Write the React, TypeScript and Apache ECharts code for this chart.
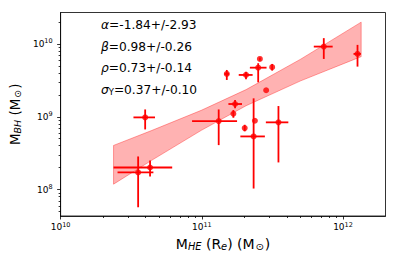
import React, { useEffect, useRef } from "react";
import * as echarts from "echarts";

// ---- data ----
const xCenter = [3.97e10, 1.317e11, 3.54e10, 4.3e10, 1.503e11, 2.056e11, 2.578e11, 2.508e11, 3.15e11, 2.856e11, 1.72e11, 1.673e11, 2.377e11, 2.328e11, 2.013e11, 3.49e11, 7.31e11, 1.267e12];
const xLow = [3.28e10, 8.53e10, 2.53e10, 2.37e10, 1.445e11, 1.826e11, 2.578e11, 2.19e11, 3.15e11, 2.856e11, 1.543e11, 1.673e11, 2.377e11, 1.875e11, 2.013e11, 2.842e11, 6.21e11, 1.187e12];
const xHigh = [4.66e10, 1.777e11, 4.54e10, 6.17e10, 1.561e11, 2.29e11, 2.578e11, 2.874e11, 3.15e11, 2.856e11, 1.927e11, 1.673e11, 2.377e11, 2.797e11, 2.013e11, 4.1e11, 8.45e11, 1.339e12];
const yCenter = [9.8e8, 8.73e8, 1.72e8, 2.01e8, 3.87e9, 3.75e9, 6.22e9, 4.72e9, 4.79e9, 2.31e9, 1.496e9, 1.1e9, 8.81e8, 5.37e8, 6.99e8, 8.38e8, 9.19e9, 7.29e9];
const yLow = [6.7e8, 4.08e8, 5.72e7, 1.51e8, 3.2e9, 3.27e9, 5.9e9, 2.97e9, 4.3e9, 2.31e9, 1.305e9, 9.69e8, 8.81e8, 1.034e8, 6.3e8, 2.36e8, 6.22e9, 4.88e9];
const yHigh = [1.26e9, 1.26e9, 2.85e8, 2.51e8, 4.39e9, 4.16e9, 6.5e9, 5.43e9, 5.31e9, 2.31e9, 1.697e9, 1.236e9, 8.81e8, 1.79e9, 7.76e8, 1.403e9, 1.2e10, 9.7e9];

// confidence band of the fit
const bandX = [2.37e10, 4.41e10, 9.92e10, 2.06e11, 5.01e11, 1.345e12];
const bandLow = [1.186e8, 2.52e8, 6.51e8, 1.417e9, 3.11e9, 6.69e9];
const bandHigh = [4.04e8, 6.47e8, 1.226e9, 2.36e9, 6.17e9, 1.99e10];

const xMajorExp = [10, 11, 12];
const yMajorExp = [8, 9, 10];
const fitTexts = [
  "{g|α}=-1.84+/-2.93",
  "{g|β}=0.98+/-0.26",
  "{g|ρ}=0.73+/-0.14",
  "{g|σ}{s|Y}=0.37+/-0.10",
];

const X_MIN = 1e10;
const X_MAX = 2e12;
const Y_MIN = 4.34e7;
const Y_MAX = 2.7e10;

const L = Math.log10;
const FONT = "DejaVu Sans";

function minorTicks(lo: number, hi: number): number[] {
  const out: number[] = [];
  for (let n = Math.floor(lo); n <= Math.ceil(hi); n++) {
    for (let k = 2; k <= 9; k++) {
      const v = n + L(k);
      if (v > lo + 1e-6 && v < hi - 1e-6) out.push(v);
    }
  }
  return out;
}

export default function App() {
  const ref = useRef<HTMLDivElement>(null);
  useEffect(() => {
    if (!ref.current) return;
    const chart = echarts.init(ref.current, undefined, { renderer: "svg" });
    const xmin = L(X_MIN), xmax = L(X_MAX), ymin = L(Y_MIN), ymax = L(Y_MAX);
    const tickLabel = {
      color: "#000",
      fontFamily: FONT,
      formatter: (v: number) => `{b|10}{s|${Math.round(v)}}`,
      rich: {
        b: { fontSize: 9, fontFamily: FONT, color: "#000", lineHeight: 12 },
        s: { fontSize: 6.5, fontFamily: FONT, color: "#000", lineHeight: 7, verticalAlign: "top" },
      },
    };
    const nameStyle = (size: number) => ({
      fontFamily: FONT,
      fontSize: size,
      color: "#000",
      rich: {
        sub: { fontSize: size * 0.7, fontFamily: FONT, fontStyle: "italic", color: "#000", verticalAlign: "bottom", lineHeight: 10 },
        sun: { fontSize: size * 0.7, fontFamily: FONT, color: "#000", verticalAlign: "bottom", lineHeight: 10, padding: [0, 1, 0, 1] },
      },
    });
    const lineStyle = { color: "#000", width: 0.8 };
    const errData = xCenter.map((x, i) => [L(x), L(yCenter[i]), L(xLow[i]), L(xHigh[i]), L(yLow[i]), L(yHigh[i])]);
    const bandData = bandX.map((x, i) => [L(x), L(bandLow[i]), L(bandHigh[i])]);

    chart.setOption({
      animation: false,
      grid: { left: 58, right: 13.5, top: 12.5, bottom: 50, show: true, borderColor: "#000", borderWidth: 0.8, backgroundColor: "transparent" },
      xAxis: [
        {
          type: "value", min: xmin, max: xmax, position: "bottom",
          axisLine: { show: true, lineStyle },
          axisTick: { show: true, length: 3.5, customValues: xMajorExp, lineStyle },
          axisLabel: { ...tickLabel, customValues: xMajorExp, margin: 5 },
          splitLine: { show: false },
          name: "M{sub|HE} (R{sub|e}) (M{sun|⊙})",
          nameLocation: "middle", nameGap: 21, nameTextStyle: nameStyle(14),
        },
        {
          type: "value", min: xmin, max: xmax, position: "bottom",
          axisLine: { show: false },
          axisTick: { show: true, length: 2, customValues: minorTicks(xmin, xmax), lineStyle },
          axisLabel: { show: false },
          splitLine: { show: false },
        },
      ],
      yAxis: [
        {
          type: "value", min: ymin, max: ymax, position: "left",
          axisLine: { show: true, lineStyle },
          axisTick: { show: true, length: 3.5, customValues: yMajorExp, lineStyle },
          axisLabel: { ...tickLabel, customValues: yMajorExp, margin: 8 },
          splitLine: { show: false },
          name: "M{sub|BH} (M{sun|⊙})",
          nameLocation: "middle", nameGap: 30, nameTextStyle: nameStyle(13.5),
        },
        {
          type: "value", min: ymin, max: ymax, position: "left",
          axisLine: { show: false },
          axisTick: { show: true, length: 2, customValues: minorTicks(ymin, ymax), lineStyle },
          axisLabel: { show: false },
          splitLine: { show: false },
        },
      ],
      graphic: fitTexts.map((t, i) => ({
        type: "text",
        x: 101,
        y: 25 + i * 21.7,
        style: {
          text: t,
          fontFamily: FONT,
          fontSize: 12.2,
          fill: "#000",
          verticalAlign: "middle",
          rich: {
            g: { fontFamily: FONT, fontSize: 12.2, fontStyle: "italic", fill: "#000" },
            s: { fontFamily: FONT, fontSize: 8.5, fill: "#000", verticalAlign: "bottom", lineHeight: 10 },
          },
        },
        z: 10,
      })),
      series: [
        {
          type: "custom",
          name: "band",
          xAxisIndex: 0, yAxisIndex: 0,
          data: [bandData[0]],
          z: 1,
          renderItem: (_p: any, api: any) => {
            const upper = bandData.map((d) => api.coord([d[0], d[2]]));
            const lower = bandData.map((d) => api.coord([d[0], d[1]])).reverse();
            return {
              type: "polygon",
              shape: { points: upper.concat(lower) },
              style: { fill: "rgba(255,0,0,0.3)", stroke: "rgba(255,0,0,0.35)", lineWidth: 1 },
            };
          },
        },
        {
          type: "custom",
          name: "errors",
          xAxisIndex: 0, yAxisIndex: 0,
          data: errData,
          z: 3,
          renderItem: (_p: any, api: any) => {
            const x = api.value(0), y = api.value(1);
            const a = api.coord([api.value(2), y]);
            const b = api.coord([api.value(3), y]);
            const c = api.coord([x, api.value(4)]);
            const d = api.coord([x, api.value(5)]);
            const st = { stroke: "#ff0000", lineWidth: 1.8 };
            return {
              type: "group",
              children: [
                { type: "line", shape: { x1: a[0], y1: a[1], x2: b[0], y2: b[1] }, style: st },
                { type: "line", shape: { x1: c[0], y1: c[1], x2: d[0], y2: d[1] }, style: st },
              ],
            };
          },
        },
        {
          type: "scatter",
          xAxisIndex: 0, yAxisIndex: 0,
          data: errData.map((d) => [d[0], d[1]]),
          symbol: "circle",
          symbolSize: 6,
          itemStyle: { color: "#ff0000" },
          z: 4,
        },
      ],
    });
    return () => chart.dispose();
  }, []);
  return <div ref={ref} style={{ width: 399, height: 266, position: "absolute", left: 0, top: 0 }} />;
}
